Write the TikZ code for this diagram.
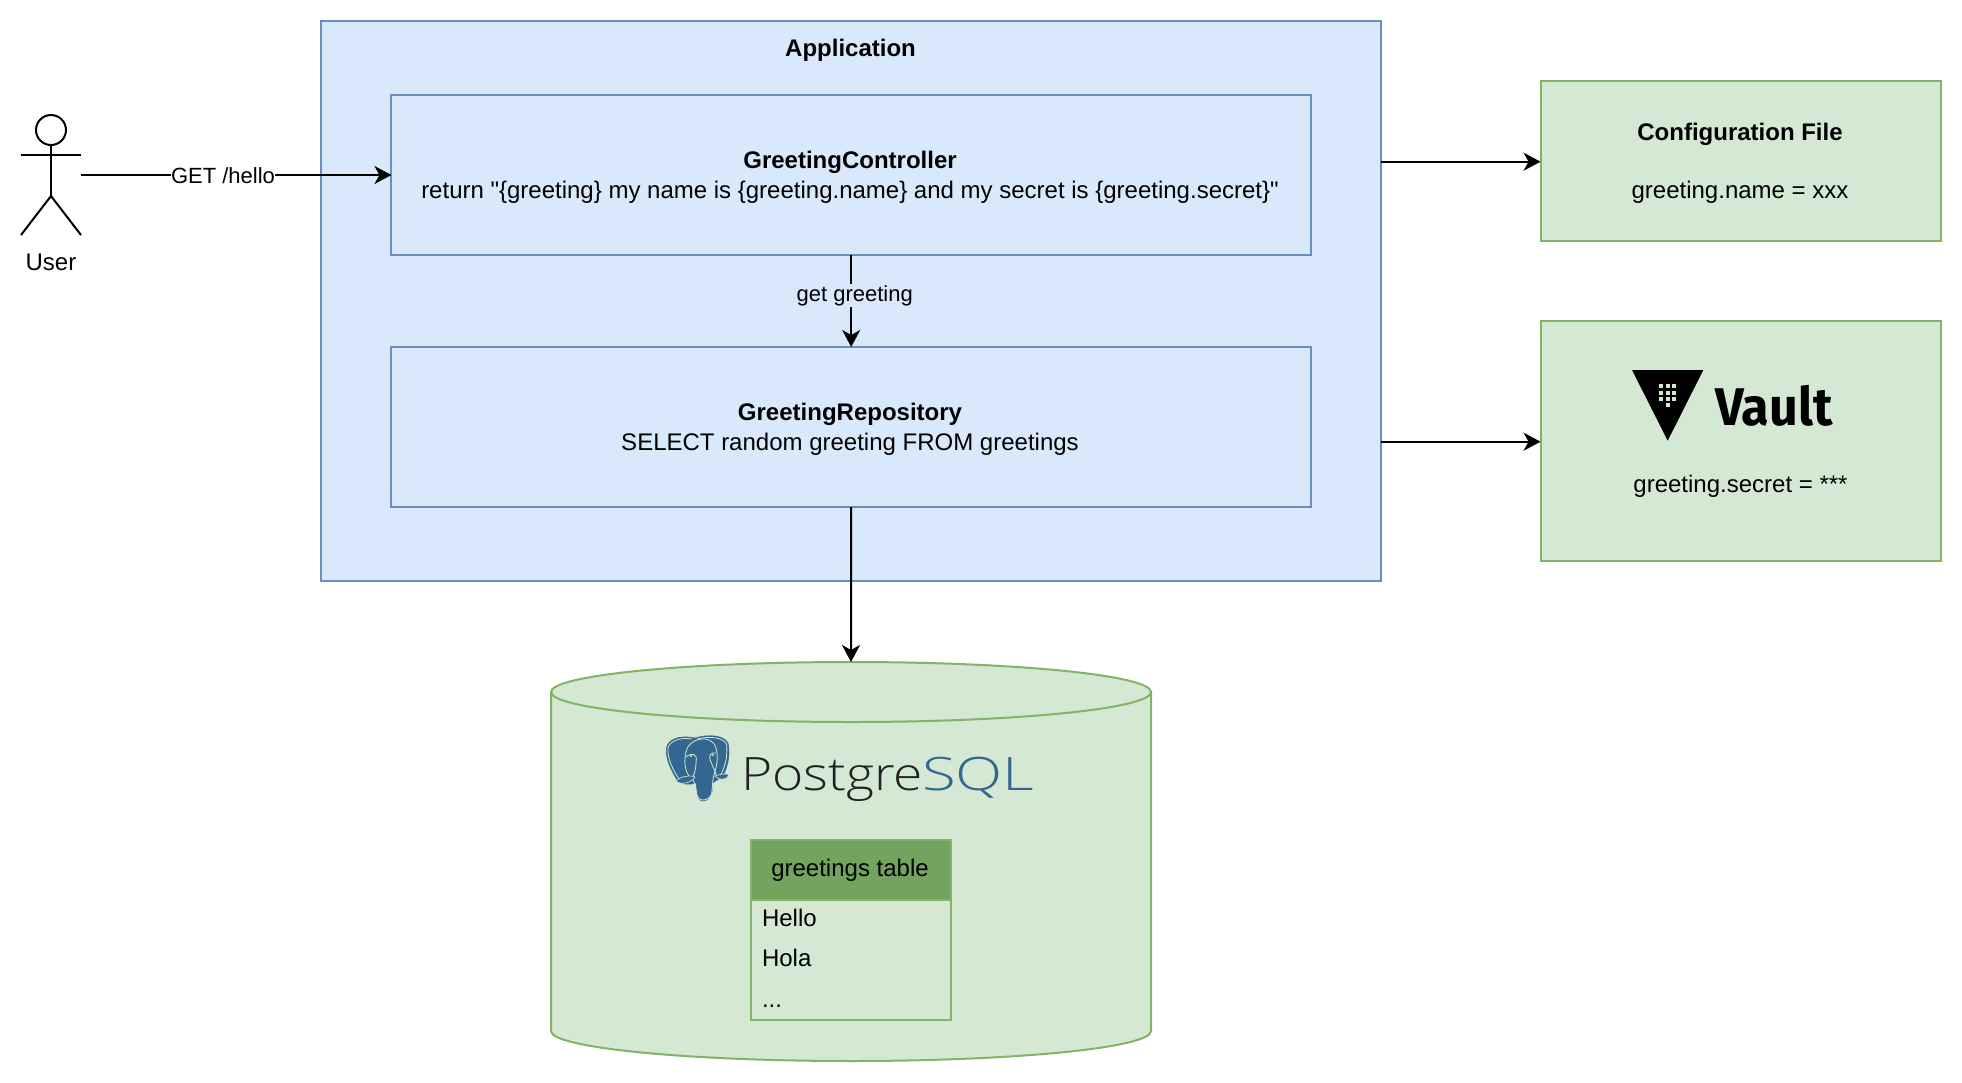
\documentclass[tikz,border=0pt]{standalone}
\usepackage{fontspec}
\setmainfont{Liberation Sans}
\newfontfamily\rawfont{Liberation Sans}
\newfontfamily\vaultfont{Fira Sans}
\newfontfamily\pgfont{Open Sans}[UprightFont=* Light]
\usetikzlibrary{arrows.meta}
\definecolor{bluefill}{HTML}{DAE8FC}
\definecolor{blueline}{HTML}{6C8EBF}
\definecolor{greenfill}{HTML}{D5E8D4}
\definecolor{greenline}{HTML}{82B366}
\definecolor{headfill}{HTML}{74A35F}
\definecolor{pgblue}{HTML}{336791}
\definecolor{pgdark}{HTML}{222222}
\tikzset{
  x=1pt,y=-1pt,
  every node/.style={font=\fontsize{24}{30}\selectfont,inner sep=0pt,outer sep=0pt,align=center},
  bluebox/.style={draw=blueline,fill=bluefill,line width=2pt},
  greenbox/.style={draw=greenline,fill=greenfill,line width=2pt},
  conn/.style={draw=black,line width=2pt,-{Stealth[length=17pt,width=18pt,inset=5pt]}},
  stick/.style={draw=black,line width=2pt},
  lbl/.style={font=\fontsize{22}{26}\selectfont},
  tabletext/.style={anchor=base west},
  earline/.style={greenfill,line width=0.8pt},
}
\begin{document}
\begin{tikzpicture}
\useasboundingbox (0,0) rectangle (1962,1082);
% containers
\path[bluebox] (321,21) rectangle (1380.7,581);
\node (apptitle) at (850.5,50) {\textbf{Application}};
\node[bluebox,minimum width=919.5pt,minimum height=160pt] (ctrl) at (851.2,175) {};
\node (ctrltext) at (850,177.5) {\textbf{GreetingController}\\return {\rawfont"}\{greeting\} my name is \{greeting.name\} and my secret is \{greeting.secret\}{\rawfont"}};
\node[bluebox,minimum width=919.5pt,minimum height=160pt] (repo) at (851.2,427) {};
\node (repotext) at (850,429.5) {\textbf{GreetingRepository}\\SELECT random greeting FROM greetings};
\coordinate (appE1) at (1380.7,161.7);
\coordinate (appE2) at (1380.7,441.7);
% config
\node[greenbox,minimum width=400.5pt,minimum height=160pt] (config) at (1740.8,161) {};
\node (cfgtitle) at (1740,134) {\textbf{Configuration File}};
\node (cfgval) at (1740,192) {greeting.name = xxx};
% vault
\node[greenbox,minimum width=400.5pt,minimum height=240pt] (vault) at (1740.8,441) {};
\fill[black] (1632,370) -- (1703.3,370) -- (1667.7,440.7) -- cycle;
\foreach \px in {1659.2,1665.6,1672}{\foreach \py in {384.2,390.6,397}{\fill[greenfill] (\px,\py) rectangle ++(4,4);}}
\fill[greenfill] (1665.6,403.2) rectangle ++(4,4);
\node[anchor=base west,xscale=0.95,transform shape] (vaulttxt) at (1715,425.5) {\vaultfont\fontsize{53}{60}\selectfont\textbf{Vault}};
\node (vaultval) at (1740.5,486) {greeting.secret = ***};
% cylinder
\path[fill=greenfill] (551,692) -- (551,1031) .. controls (551,1047.6) and (685,1061) .. (851,1061) .. controls (1017,1061) and (1151,1047.6) .. (1151,1031) -- (1151,692) -- cycle;
\draw[greenline,line width=2pt,fill=greenfill] (551,692) .. controls (551,675.4) and (685,662) .. (851,662) .. controls (1017,662) and (1151,675.4) .. (1151,692) .. controls (1151,708.6) and (1017,722) .. (851,722) .. controls (685,722) and (551,708.6) .. (551,692) -- cycle;
\draw[greenline,line width=2pt] (551,692) -- (551,1031) .. controls (551,1047.6) and (685,1061) .. (851,1061) .. controls (1017,1061) and (1151,1047.6) .. (1151,1031) -- (1151,692);
\coordinate (dbtop) at (851,662);
% elephant
\draw[pgblue,fill=pgblue,line width=0.5pt] (666.5,748) .. controls (668,738) and (682,735) .. (695,738) .. controls (708,734) and (724,735) .. (728,743) .. controls (731,755) and (727,770) .. (722,777) .. controls (718,780) and (714,781) .. (713,783) .. controls (713,790) and (711,801) .. (703,801) .. controls (696,801) and (697,790) .. (696,783) .. controls (690,785) and (681,785) .. (677,780) .. controls (671,770) and (665,758) .. (666.5,748) -- cycle;
\draw[earline] (668,748) .. controls (670,740) and (682,737) .. (692,739);
\draw[earline] (697,739) .. controls (708,736) and (723,737) .. (726.5,744) .. controls (728,755) and (725,768) .. (720,776);
\draw[earline] (668,748) .. controls (667,758) and (673,770) .. (679,779);
\draw[earline] (686,752) .. controls (688,738) and (712,733) .. (716,748) .. controls (719,758) and (716,768) .. (714,775) .. controls (712,780) and (713,790) .. (711,795) .. controls (710,798) and (706,800) .. (703,800) .. controls (699,800) and (698,797) .. (697,795);
\draw[earline] (686,752) .. controls (683,765) and (686,775) .. (693,780) .. controls (696,785) and (696,790) .. (697,795);
\draw[earline] (686,757) .. controls (692,752) and (698,754) .. (696,762) .. controls (696,770) and (694,775) .. (692,778);
\draw[earline] (716,753) .. controls (711,752) and (708,755) .. (711,762) .. controls (713,768) and (716,772) .. (716,775);
\fill[greenfill] (691,756) circle (1.1); \fill[greenfill] (713,755) circle (1.1);
\draw[greenfill,fill=pgblue,line width=0.6pt] (676,781) .. controls (680,776) and (692,775) .. (695,777) .. controls (692,782) and (682,786) .. (676,781) -- cycle;
\draw[greenfill,fill=pgblue,line width=0.6pt] (715,776) .. controls (720,774) and (728,773) .. (729,775) .. controls (727,780) and (719,781) .. (715,776) -- cycle;
% logo text
\node[anchor=base west,text=pgdark,xscale=1.16,transform shape] (pgname) at (741,790) {\pgfont\fontsize{46}{50}\selectfont Postgre};
\node[anchor=base west,text=pgblue,xscale=1.34,transform shape] (pgsql) at (922,790) {\pgfont\fontsize{46}{50}\selectfont SQL};
% table
\node[draw=greenline,fill=headfill,line width=2pt,minimum width=200pt,minimum height=60pt] (thead) at (851,869.6) {};
\node (theadtxt) at (850,870.5) {greetings table};
\node[draw=greenline,fill=greenfill,line width=2pt,minimum width=200pt,minimum height=120pt] (tbody) at (851,959.6) {};
\node[tabletext] (t1) at (762,926) {Hello};
\node[tabletext] (t2) at (762,966) {Hola};
\node[tabletext] (t3) at (762,1007) {...};
% user
\draw[stick] (51,130) circle (15);
\coordinate (uBody) at (51,145);
\coordinate (uHip) at (51,196);
\draw[stick] (uBody) -- (uHip);
\draw[stick] (21,155) -- (81,155);
\draw[stick] (21,235) -- (uHip) -- (81,235);
\node (user) at (51,262) {User};
\coordinate (uE) at (81,175);
% connectors
\draw[conn] (uE) -- (ctrl.west);
\node[fill=white,lbl] (getl) at (223,176) {GET /hello};
\draw[conn] (ctrl.south) -- (repo.north) node[pos=0.44,xshift=3.5pt,fill=bluefill,lbl,inner ysep=1pt,inner xsep=1pt] {get greeting};
\draw[conn] (repo.south) -- (dbtop);
\draw[conn] (appE1) -- (appE1 -| config.west);
\draw[conn] (appE2) -- (appE2 -| vault.west);
\end{tikzpicture}
\end{document}
